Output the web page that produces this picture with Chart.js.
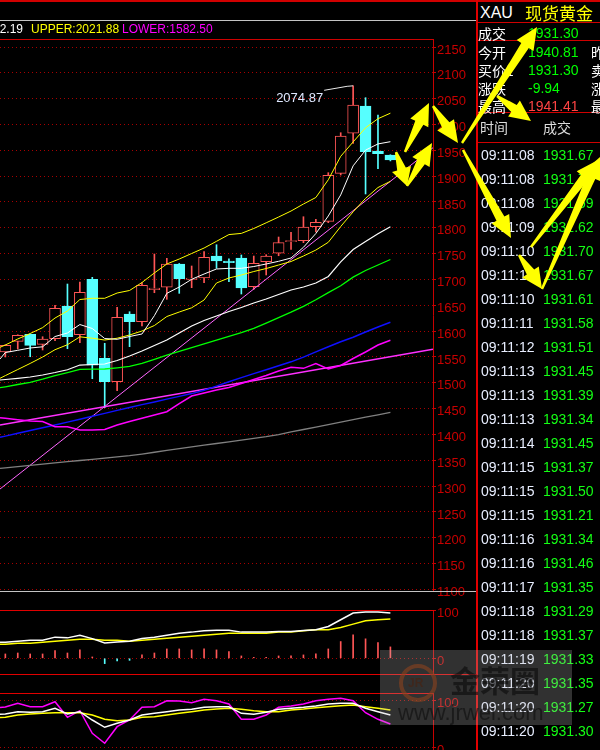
<!DOCTYPE html>
<html>
<head>
<meta charset="utf-8">
<script src="https://cdn.jsdelivr.net/npm/chart.js@4.4.1/dist/chart.umd.min.js"></script>
<style>
html, body { margin: 0; padding: 0; background: #000; width: 600px; height: 750px; overflow: hidden; }
#page { position: relative; width: 600px; height: 750px; overflow: hidden; background: #000; font-family: "Liberation Sans", Arial, sans-serif; }
canvas { position: absolute; left: 0; }
.ln { position: absolute; }
.tx { position: absolute; white-space: nowrap; }
svg { position: absolute; left: 0; top: 0; }
</style>
</head>
<body>
<div id="page">
  <canvas id="mainChart" width="476" height="572" style="top:29px"></canvas>
  <canvas id="subChart1" width="476" height="89" style="top:595px"></canvas>
  <canvas id="subChart2" width="476" height="82" style="top:678px"></canvas>
</div>
<script>
// ---- price panel data (32 candles, oldest first) ----
const opens  = [1559.6, 1580.3, 1593.9, 1574.5, 1585.4, 1648.7, 1593.1, 1700.3, 1547.4, 1502.1, 1633.2, 1618.3, 1680.2, 1684.9, 1730.0, 1700.3,
                1702.9, 1745.4, 1735.8, 1741.6, 1686.0, 1734.4, 1750.7, 1773.1, 1775.1, 1802.2, 1812.6, 1905.5, 1983.0, 2035.8, 1948.7, 1940.81];
const closes = [1572.6, 1591.9, 1572.6, 1584.8, 1644.2, 1589.2, 1675.2, 1533.9, 1502.1, 1626.8, 1618.3, 1688.7, 1683.5, 1730.0, 1701.5, 1702.9,
                1742.9, 1735.8, 1732.5, 1683.5, 1731.3, 1745.4, 1771.2, 1775.1, 1801.6, 1810.7, 1901.6, 1977.7, 2037.7, 1947.3, 1943.5, 1931.30];
const highs  = [1573.5, 1593.0, 1594.5, 1589.2, 1650.0, 1691.2, 1695.1, 1704.2, 1576.5, 1646.1, 1637.6, 1693.8, 1749.3, 1741.0, 1731.0, 1726.1,
                1753.8, 1767.3, 1740.2, 1747.4, 1745.4, 1748.0, 1782.2, 1791.3, 1821.5, 1816.5, 1906.7, 1984.1, 2074.87, 2051.9, 2018.4, 1941.41];
const lows   = [1550.0, 1565.4, 1550.5, 1563.5, 1581.5, 1566.0, 1577.6, 1507.9, 1451.8, 1484.7, 1569.9, 1610.0, 1674.4, 1661.6, 1673.2, 1684.1,
                1693.8, 1721.6, 1695.7, 1671.9, 1681.0, 1708.7, 1746.0, 1758.4, 1771.2, 1791.9, 1810.0, 1902.2, 1963.6, 1865.5, 1914.4, 1929.5];

// line series: first value is where the line enters at the left edge, then one value per candle
const bollUpper = [1568.7, 1573.2, 1584.8, 1595.4, 1606.8, 1625.4, 1639.0, 1661.2, 1663.6, 1663.6, 1673.8, 1678.7, 1694.1, 1712.7, 1730.0, 1739.6, 1750.3,
                   1760.9, 1773.9, 1786.9, 1789.2, 1798.7, 1809.7, 1820.9, 1832.5, 1846.1, 1858.7, 1893.0, 1938.4, 1966.3, 1993.6, 2011.2, 2021.88];
const bollMid   = [1505.4, 1506.4, 1508.7, 1511.2, 1515.1, 1519.9, 1525.3, 1534.4, 1535.4, 1536.4, 1543.2, 1551.9, 1561.5, 1572.2, 1582.8, 1596.4, 1609.9,
                   1620.6, 1629.3, 1638.0, 1645.7, 1654.5, 1662.2, 1670.9, 1679.6, 1685.4, 1693.2, 1705.8, 1734.0, 1758.0, 1773.5, 1788.5, 1802.19];
const bollLower = [1432.4, 1431.3, 1428.4, 1426.0, 1425.0, 1415.0, 1415.0, 1408.6, 1408.6, 1409.6, 1418.3, 1425.0, 1431.3, 1437.7, 1444.0, 1459.9, 1474.4,
                   1480.2, 1486.0, 1490.9, 1498.6, 1506.4, 1514.1, 1522.8, 1530.0, 1528.0, 1537.4, 1526.7, 1533.5, 1547.0, 1559.6, 1573.2, 1582.50];
const maWhite   = [1546.1, 1558.6, 1562.9, 1567.4, 1569.7, 1589.6, 1596.4, 1612.8, 1605.1, 1585.7, 1584.2, 1589.6, 1594.5, 1630.0, 1673.2, 1685.4, 1700.3,
                   1710.6, 1720.3, 1721.6, 1721.6, 1725.1, 1730.0, 1735.2, 1741.6, 1762.3, 1789.0, 1822.9, 1863.7, 1920.0, 1950.4, 1962.4, 1966.7];
const maYellow  = [1508.7, 1513.9, 1525.7, 1537.5, 1549.9, 1564.1, 1573.7, 1589.0, 1586.3, 1582.8, 1586.3, 1592.5, 1600.3, 1610.9, 1628.3, 1637.0, 1645.2,
                   1660.3, 1693.2, 1702.9, 1708.7, 1715.4, 1721.2, 1728.0, 1734.8, 1745.4, 1757.0, 1772.0, 1802.5, 1831.0, 1857.0, 1878.0, 1890.0];
const maGreen   = [1490.5, 1492.3, 1496.7, 1501.0, 1507.0, 1513.7, 1519.7, 1525.9, 1526.3, 1526.7, 1529.0, 1531.7, 1537.4, 1545.5, 1553.8, 1561.0, 1568.3,
                   1575.5, 1582.8, 1590.0, 1597.2, 1605.3, 1615.7, 1626.2, 1636.7, 1647.9, 1660.8, 1674.6, 1687.8, 1704.6, 1717.4, 1728.0, 1738.7];
const maBlue    = [1394.5, 1396.8, 1402.2, 1407.7, 1413.1, 1418.5, 1423.9, 1429.3, 1435.1, 1440.8, 1446.6, 1452.2, 1457.8, 1463.0, 1468.4, 1473.7, 1479.1,
                   1485.5, 1493.6, 1501.9, 1510.0, 1517.8, 1525.3, 1532.9, 1540.6, 1549.7, 1559.8, 1569.7, 1579.4, 1588.3, 1598.3, 1608.0, 1617.1];
const maGrey    = [1334.5, 1335.5, 1337.8, 1340.3, 1342.6, 1344.9, 1347.3, 1349.6, 1351.9, 1354.2, 1356.6, 1358.9, 1362.0, 1365.6, 1369.3, 1372.6, 1375.9,
                   1379.2, 1382.5, 1385.8, 1389.1, 1392.4, 1395.7, 1399.9, 1404.8, 1409.6, 1414.2, 1419.1, 1423.9, 1428.6, 1433.4, 1438.0, 1442.9];

// two straight trend lines, value at the left and right edge of the plot
const trendRise    = [1294.4, 1955.1];
const trendSupport = [1418.3, 1564.8];

const priceTicks = [1100, 1150, 1200, 1250, 1300, 1350, 1400, 1450, 1500, 1550, 1600, 1650, 1700, 1750, 1800, 1850, 1900, 1950, 2000, 2050, 2100, 2150];

// ---- indicator panel 1 ----
const osciBars   = [9, 11, 9, 9, 16, 11, 17.4, 2.8, -11, -5.6, -4.2, 7, 11, 19.4, 19.4, 17.4, 19.4, 17.4, 13.9, 4.9, 2, 2, 4.9, 4.9, 7, 9, 19.4, 34.7, 48.6, 40.3, 32.6, 23.6];
const osciWhite  = [33, 33.3, 35.4, 37.5, 37.5, 43.8, 42.3, 47.9, 40.8, 31.9, 34, 35.4, 40.8, 43.8, 47.9, 52.1, 54.2, 56.9, 58.3, 58.3, 54.2, 54.2, 54.2, 55.4, 55.4, 57.5, 59, 65.8, 79.8, 93.8, 95.8, 95.8, 93.8];
const osciYellow = [29, 29.2, 31.2, 31.2, 33.3, 35.4, 37.5, 39.6, 39.6, 37.5, 37.5, 35.4, 37.5, 39.6, 41.7, 43.8, 45.8, 47.9, 50, 52.1, 52.1, 52.1, 52.1, 54.2, 54.2, 56.9, 59, 59, 63.8, 70.8, 77.7, 79.8, 81.2];
const osciTicks  = [0, 100];

// ---- indicator panel 2 (K, D, J) ----
const kLine = [70, 70.4, 75.3, 74, 75.3, 82.5, 70.4, 75.3, 57.7, 42.3, 50.7, 57.7, 68.3, 71.9, 75.3, 78.9, 80.3, 84.6, 85.8, 85.8, 71.9, 69.8, 74, 80.3, 82.5, 84.6, 87.3, 91.5, 93, 93, 82.5, 75.3, 68.3];
const dLine = [63, 63.4, 68.3, 70.4, 71.9, 73.2, 73.2, 73.2, 68.3, 59.2, 56.2, 57.7, 63.4, 64.7, 68.3, 71.9, 75.3, 78.9, 81, 82.5, 80.3, 77.4, 75.3, 75.3, 78.9, 81, 83.7, 85.8, 88, 89.4, 85.8, 82.5, 78.9];
const jLine = [84, 85.2, 93, 85.8, 85.8, 96.4, 63.4, 77.4, 29.6, 8.5, 43.6, 57.7, 84.6, 85.8, 98.5, 97.9, 94.3, 101.5, 98.5, 91.5, 59.2, 59.2, 68.3, 84.6, 87.3, 91.5, 98.5, 101.5, 103.6, 98.5, 73.2, 59.2, 49.3];
const kdjTicks = [0, 100];

// ---- quote panel ----
const quoteLabels = ['今开', '买价1', '涨跌', '最高'];
const quoteValues = ['1940.81', '1931.30', '-9.94', '1941.41'];
const quoteSide   = ['昨', '卖', '涨', '最'];
const tradeTimes  = ['09:11:08', '09:11:08', '09:11:08', '09:11:09', '09:11:10', '09:11:10', '09:11:10', '09:11:11', '09:11:12', '09:11:13',
                     '09:11:13', '09:11:13', '09:11:14', '09:11:15', '09:11:15', '09:11:15', '09:11:16', '09:11:16', '09:11:17', '09:11:18',
                     '09:11:18', '09:11:19', '09:11:20', '09:11:20', '09:11:20'];
const tradePrices = ['1931.67', '1931.71', '1931.69', '1931.62', '1931.70', '1931.67', '1931.61', '1931.58', '1931.51', '1931.45',
                     '1931.39', '1931.34', '1931.45', '1931.37', '1931.50', '1931.21', '1931.34', '1931.46', '1931.35', '1931.29',
                     '1931.37', '1931.33', '1931.35', '1931.27', '1931.30'];

const UP = '#ff5656', DOWN = '#56ffff', AXIS = '#c80000', GRID = '#a80000';
const X_MIN = -0.43, X_MAX = 34.43;

const toPts = arr => arr.map((v, i) => ({ x: i === 0 ? X_MIN : i - 1, y: v }));
const edgePts = arr => [{ x: X_MIN, y: arr[0] }, { x: X_MAX, y: arr[1] }];
const line = (pts, color, width) => ({ type: 'line', data: pts, borderColor: color, borderWidth: width, pointRadius: 0, tension: 0, order: 0 });

function rightAxis(min, max, ticks) {
    return {
        position: 'right', min: min, max: max,
        afterFit: s => { s.width = 43; },
        afterBuildTicks: s => { s.ticks = ticks.map(v => ({ value: v })); },
        grid: { color: GRID, lineWidth: 1, drawTicks: true, tickLength: 3, tickColor: AXIS },
        border: { display: true, color: AXIS, width: 1, dash: [1, 3] },
        ticks: { color: AXIS, font: { family: 'Liberation Sans', size: 13 }, padding: 1, labelOffset: 3, autoSkip: false, callback: v => String(v) }
    };
}

function baseOptions(yAxis, padTop, padBottom) {
    return {
        responsive: false, animation: false, devicePixelRatio: 1,
        layout: { padding: { left: 0, right: 0, top: padTop, bottom: padBottom } },
        plugins: { legend: { display: false }, tooltip: { enabled: false } },
        scales: {
            x: { type: 'linear', display: false, min: X_MIN, max: X_MAX, offset: false, grid: { offset: false } },
            y: yAxis
        }
    };
}

// label the highest price with a leader line
const peakLabel = {
    id: 'peakLabel',
    afterDatasetsDraw(chart) {
        const { ctx, scales: { x, y } } = chart;
        const top = Math.max(...highs);
        const i = highs.indexOf(top);
        const px = x.getPixelForValue(i), py = y.getPixelForValue(top);
        ctx.save();
        ctx.strokeStyle = '#e8e8e8';
        ctx.lineWidth = 1;
        ctx.beginPath();
        ctx.moveTo(px - 29, py + 4.5);
        ctx.lineTo(px - 6, py + 0.5);
        ctx.lineTo(px, py);
        ctx.stroke();
        ctx.fillStyle = '#dfe8ff';
        ctx.font = '13px "Liberation Sans"';
        ctx.textAlign = 'right';
        ctx.textBaseline = 'middle';
        ctx.fillText(top.toFixed(2), px - 30, py + 12.5);
        ctx.restore();
    }
};

const isUp = opens.map((o, i) => closes[i] >= o);

new Chart(document.getElementById('mainChart'), {
    type: 'line',
    data: {
        datasets: [
            line(toPts(bollUpper), '#ffff00', 1),
            line(toPts(bollMid), '#ffffff', 1.2),
            line(toPts(bollLower), '#ff00ff', 1.5),
            line(toPts(maWhite), '#ffffff', 1),
            line(toPts(maYellow), '#ffff00', 1),
            line(toPts(maGreen), '#00ff00', 1.3),
            line(toPts(maBlue), '#1010ff', 1.5),
            line(toPts(maGrey), '#808080', 1.3),
            line(edgePts(trendRise), '#ff66ff', 1),
            line(edgePts(trendSupport), '#ff30ff', 1.5),
            {
                type: 'bar', order: 1, grouped: false, barThickness: 11,
                data: opens.map((o, i) => ({ x: i, y: [o, closes[i]] })),
                backgroundColor: isUp.map(u => u ? '#000000' : DOWN),
                borderColor: isUp.map(u => u ? UP : DOWN),
                borderWidth: 1, borderSkipped: false
            },
            {
                type: 'bar', order: 2, grouped: false, barThickness: 1,
                data: lows.map((l, i) => ({ x: i, y: [l, highs[i]] })),
                backgroundColor: isUp.map(u => u ? UP : DOWN)
            }
        ]
    },
    options: baseOptions(rightAxis(1097, 2165.5, priceTicks), 10, 10),
    plugins: [peakLabel]
});

new Chart(document.getElementById('subChart1'), {
    type: 'line',
    data: {
        datasets: [
            line(toPts(osciWhite), '#ffffff', 1.5),
            line(toPts(osciYellow), '#ffff00', 1.5),
            {
                type: 'bar', order: 1, grouped: false, barThickness: 1,
                data: osciBars.map((v, i) => ({ x: i, y: v })),
                backgroundColor: osciBars.map(v => v >= 0 ? UP : DOWN)
            }
        ]
    },
    options: baseOptions(rightAxis(-32.5, 100, osciTicks), 15, 10)
});

new Chart(document.getElementById('subChart2'), {
    type: 'line',
    data: {
        datasets: [
            line(toPts(kLine), '#ffffff', 1.5),
            line(toPts(dLine), '#ffff00', 1.5),
            line(toPts(jLine), '#ff00ff', 1.5)
        ]
    },
    options: baseOptions(rightAxis(-5.7, 114.8, kdjTicks), 15, 10)
});

// ---- frame, text and quote panel ----
const page = document.getElementById('page');

function box(left, top, width, height, css) {
    const d = document.createElement('div');
    d.className = 'ln';
    d.style.cssText = `left:${left}px;top:${top}px;width:${width}px;height:${height}px;` + (css || '');
    page.appendChild(d);
    return d;
}
function text(left, mid, str, color, size, family, extra) {
    const d = document.createElement('div');
    d.className = 'tx';
    d.style.cssText = `left:${left}px;top:${mid - size * 0.6}px;line-height:${size * 1.2}px;font-size:${size}px;color:${color};` +
        `font-family:${family || '"Liberation Sans", Arial'};` + (extra || '');
    d.textContent = str;
    page.appendChild(d);
    return d;
}
const CJK = '"Noto Sans CJK SC", sans-serif';

box(0, 0, 600, 2, 'background:#d00000');
box(-1, 20, 478, 572, 'border:1px solid #c4c4c4;box-sizing:border-box');
box(0, 39, 434, 1, 'background:#d00000');
box(0, 610, 434, 1, 'background:#e00000');
box(0, 674, 477, 1, 'background:#e00000');
box(0, 693, 434, 1, 'background:#e00000');
box(476, 0, 2, 750, 'background:#e00000');
[22, 40, 112, 142].forEach(y => box(478, y, 122, 1, 'background:#d00000'));

// indicator header (start cut off at the left edge)
const mid = text(0, 29, 'MID:1802.19', '#ffffff', 12);
mid.style.left = 'auto';
mid.style.right = (600 - 23) + 'px';
text(31, 29, 'UPPER:2021.88', '#ffff00', 12);
text(122, 29, 'LOWER:1582.50', '#ff00ff', 12);

// quote panel
text(480, 13, 'XAU', '#ffffff', 16);
text(525, 13, '现货黄金', '#ffff00', 17, CJK);
text(478, 33, '成交', '#ffffff', 14, CJK);
text(528, 33, '1931.30', '#00ff00', 14);
quoteLabels.forEach((lab, i) => {
    const y = 52 + i * 18;
    text(478, y, lab, '#ffffff', 14, CJK);
    text(528, y, quoteValues[i], i === 3 ? '#ff4444' : '#00ff00', 14);
    text(591, y, quoteSide[i], '#ffffff', 14, CJK);
});
text(480, 127, '时间', '#dcdcdc', 14, CJK);
text(543, 127, '成交', '#dcdcdc', 14, CJK);
tradeTimes.forEach((t, i) => {
    const y = 155 + i * 24;
    text(481, y, t, '#e8eeff', 14);
    text(543, y, tradePrices[i], '#14ff14', 14);
});

// hand-drawn yellow arrows on top of the screenshot
const arrows = [
    [396, 152, 407, 186], [407, 186, 432, 143], [405, 152, 429, 103], [433, 106, 458, 143],
    [462, 143, 537, 27], [497, 96, 531, 121], [463, 150, 511, 238], [519, 255, 542, 289],
    [542, 289, 600, 157], [531, 247, 598, 160]
];
function arrowPoints(x1, y1, x2, y2) {
    const dx = x2 - x1, dy = y2 - y1, len = Math.hypot(dx, dy);
    const ux = dx / len, uy = dy / len, nx = -uy, ny = ux;
    const hl = Math.min(22, len * 0.5), hw = 10, s0 = 1.2, s1 = 4.5;
    const bx = x2 - ux * hl, by = y2 - uy * hl;
    const pts = [[x1 + nx * s0, y1 + ny * s0], [bx + nx * s1, by + ny * s1], [bx + nx * hw, by + ny * hw], [x2, y2],
                 [bx - nx * hw, by - ny * hw], [bx - nx * s1, by - ny * s1], [x1 - nx * s0, y1 - ny * s0]];
    return pts.map(p => p[0].toFixed(1) + ',' + p[1].toFixed(1)).join(' ');
}
const svgNS = 'http://www.w3.org/2000/svg';
const svg = document.createElementNS(svgNS, 'svg');
svg.setAttribute('width', '600');
svg.setAttribute('height', '750');
arrows.forEach(a => {
    const p = document.createElementNS(svgNS, 'polygon');
    p.setAttribute('points', arrowPoints(...a));
    p.setAttribute('fill', '#ffff00');
    svg.appendChild(p);
});
page.appendChild(svg);

// watermark
box(380, 650, 192, 75, 'background:rgba(190,190,190,0.26)');
box(399, 664, 38, 38, 'border:4px solid rgba(140,66,30,0.6);border-radius:50%;box-sizing:border-box');
text(408, 683, 'JR', 'rgba(70,35,20,0.7)', 12, '"Liberation Sans"', 'font-weight:bold');
text(450, 679, '金荣圈', 'rgba(10,10,10,0.6)', 30, CJK, 'font-weight:bold');
text(398, 713, 'www.jrwei.com', 'rgba(10,10,10,0.55)', 22);
</script>
</body>
</html>
